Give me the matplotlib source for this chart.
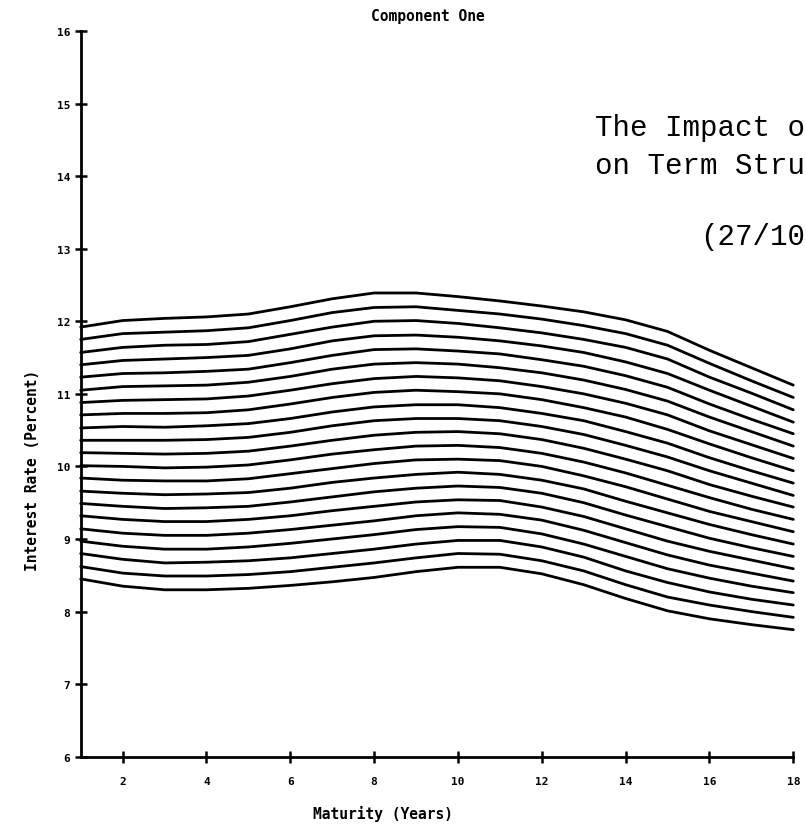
import matplotlib
matplotlib.use("Agg")
import matplotlib.pyplot as plt
import numpy as np

# Maturities (years) at which each yield curve is tabulated
maturities = [1, 2, 3, 4, 5, 6, 7, 8, 9, 10, 11, 12, 13, 14, 15, 16, 17, 18]

# Shocked term structures, highest shock first (interest rate, percent)
curves = [
    [11.92, 12.01, 12.04, 12.06, 12.10, 12.20, 12.31, 12.39, 12.39, 12.34, 12.28, 12.21, 12.13, 12.02, 11.86, 11.60, 11.36, 11.12],
    [11.75, 11.83, 11.85, 11.87, 11.91, 12.01, 12.12, 12.19, 12.20, 12.15, 12.10, 12.03, 11.94, 11.83, 11.67, 11.42, 11.18, 10.95],
    [11.57, 11.64, 11.67, 11.68, 11.72, 11.82, 11.92, 12.00, 12.01, 11.97, 11.91, 11.84, 11.75, 11.64, 11.48, 11.23, 11.01, 10.78],
    [11.40, 11.46, 11.48, 11.50, 11.53, 11.62, 11.73, 11.80, 11.81, 11.78, 11.73, 11.66, 11.57, 11.44, 11.28, 11.05, 10.83, 10.61],
    [11.23, 11.28, 11.29, 11.31, 11.34, 11.43, 11.53, 11.61, 11.62, 11.59, 11.55, 11.47, 11.38, 11.25, 11.09, 10.86, 10.65, 10.45],
    [11.05, 11.10, 11.11, 11.12, 11.16, 11.24, 11.34, 11.41, 11.43, 11.41, 11.36, 11.29, 11.19, 11.06, 10.90, 10.68, 10.48, 10.28],
    [10.88, 10.91, 10.92, 10.93, 10.97, 11.05, 11.14, 11.21, 11.24, 11.22, 11.18, 11.10, 11.00, 10.87, 10.71, 10.49, 10.30, 10.11],
    [10.71, 10.73, 10.73, 10.74, 10.78, 10.86, 10.95, 11.02, 11.05, 11.03, 11.00, 10.92, 10.81, 10.68, 10.51, 10.31, 10.12, 9.94],
    [10.53, 10.55, 10.54, 10.56, 10.59, 10.66, 10.75, 10.82, 10.85, 10.85, 10.81, 10.73, 10.63, 10.48, 10.32, 10.12, 9.94, 9.77],
    [10.36, 10.36, 10.36, 10.37, 10.40, 10.47, 10.56, 10.63, 10.66, 10.66, 10.63, 10.55, 10.44, 10.29, 10.13, 9.94, 9.77, 9.60],
    [10.19, 10.18, 10.17, 10.18, 10.21, 10.28, 10.36, 10.43, 10.47, 10.48, 10.45, 10.37, 10.25, 10.10, 9.94, 9.75, 9.59, 9.44],
    [10.01, 10.00, 9.98, 9.99, 10.02, 10.09, 10.17, 10.23, 10.28, 10.29, 10.26, 10.18, 10.06, 9.91, 9.74, 9.57, 9.41, 9.27],
    [9.84, 9.81, 9.80, 9.80, 9.83, 9.90, 9.97, 10.04, 10.09, 10.10, 10.08, 10.00, 9.87, 9.72, 9.55, 9.38, 9.24, 9.10],
    [9.66, 9.63, 9.61, 9.62, 9.64, 9.70, 9.78, 9.84, 9.89, 9.92, 9.89, 9.81, 9.69, 9.52, 9.36, 9.20, 9.06, 8.93],
    [9.49, 9.45, 9.42, 9.43, 9.45, 9.51, 9.58, 9.65, 9.70, 9.73, 9.71, 9.63, 9.50, 9.33, 9.17, 9.01, 8.88, 8.76],
    [9.32, 9.27, 9.24, 9.24, 9.27, 9.32, 9.39, 9.45, 9.51, 9.54, 9.53, 9.44, 9.31, 9.14, 8.97, 8.83, 8.71, 8.59],
    [9.14, 9.08, 9.05, 9.05, 9.08, 9.13, 9.19, 9.25, 9.32, 9.36, 9.34, 9.26, 9.12, 8.95, 8.78, 8.64, 8.53, 8.42],
    [8.97, 8.90, 8.86, 8.86, 8.89, 8.94, 9.00, 9.06, 9.13, 9.17, 9.16, 9.07, 8.93, 8.76, 8.59, 8.46, 8.35, 8.26],
    [8.80, 8.72, 8.67, 8.68, 8.70, 8.74, 8.80, 8.86, 8.93, 8.98, 8.98, 8.89, 8.75, 8.56, 8.40, 8.27, 8.17, 8.09],
    [8.62, 8.53, 8.49, 8.49, 8.51, 8.55, 8.61, 8.67, 8.74, 8.80, 8.79, 8.70, 8.56, 8.37, 8.20, 8.09, 8.00, 7.92],
    [8.45, 8.35, 8.30, 8.30, 8.32, 8.36, 8.41, 8.47, 8.55, 8.61, 8.61, 8.52, 8.37, 8.18, 8.01, 7.90, 7.82, 7.75],
]

x_ticks = [2, 4, 6, 8, 10, 12, 14, 16, 18]
y_ticks = [6, 7, 8, 9, 10, 11, 12, 13, 14, 15, 16]

title_text = "Component One"
x_label = "Maturity (Years)"
y_label = "Interest Rate (Percent)"
caption_lines = ["The Impact o", "on Term Stru", "(27/10"]

W, H = 806, 829
fig = plt.figure(figsize=(W / 100, H / 100), dpi=100)
fig.patch.set_facecolor("white")

# axes box in pixel coordinates
left_px, right_px, top_px, bottom_px = 80.7, 793.3, 32.0, 757.7
ax = fig.add_axes([left_px / W, 1 - bottom_px / H,
                   (right_px - left_px) / W, (bottom_px - top_px) / H])

for rates in curves:
    ax.plot(maturities, rates, color="black", lw=2.0, solid_capstyle="round",
            solid_joinstyle="round", clip_on=False)

ax.set_xlim(1, 18)
ax.set_ylim(6, 16)
for side in ("top", "right"):
    ax.spines[side].set_visible(False)
for side in ("left", "bottom"):
    ax.spines[side].set_linewidth(2.0)
    ax.spines[side].set_color("black")

tick_font = dict(family="DejaVu Sans Mono", weight="bold", size=8)
ax.set_xticks(x_ticks)
ax.set_xticklabels([str(t) for t in x_ticks], fontdict=tick_font)
ax.set_yticks(y_ticks)
ax.set_yticklabels([str(t) for t in y_ticks], fontdict=tick_font)
ax.tick_params(axis="x", direction="inout", length=8.5, width=1.8, pad=9.5)
ax.tick_params(axis="y", direction="inout", length=8.0, width=1.8, pad=3.5)

label_font = dict(family="DejaVu Sans Mono", weight="bold", size=10.5)
fig.text(428 / W, 1 - 16 / H, title_text, ha="center", va="center", **label_font)
fig.text(383 / W, 1 - 814 / H, x_label, ha="center", va="center", **label_font)
fig.text(33 / W, 1 - 470.5 / H, y_label, ha="center", va="center",
         rotation=90, **label_font)

cap_font = dict(family="Liberation Mono", size=21)
fig.text(595 / W, 1 - 136 / H, caption_lines[0], ha="left", va="baseline", **cap_font)
fig.text(595 / W, 1 - 174 / H, caption_lines[1], ha="left", va="baseline", **cap_font)
fig.text(700 / W, 1 - 245 / H, caption_lines[2], ha="left", va="baseline", **cap_font)

fig.savefig("out.png", dpi=100, facecolor="white")
